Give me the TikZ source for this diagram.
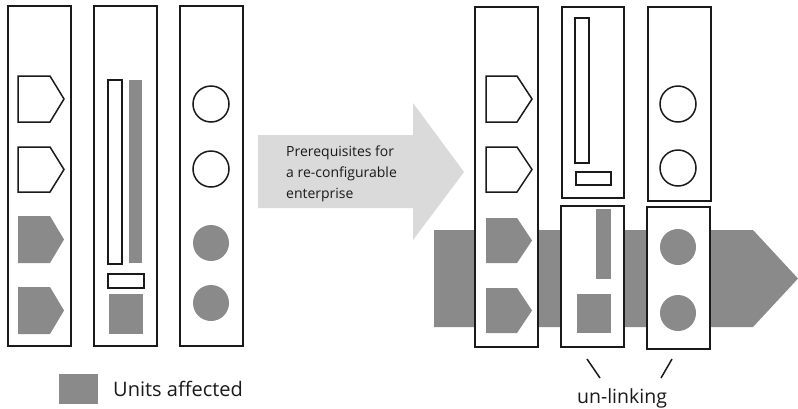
\documentclass[tikz,border=0pt]{standalone}
\usepackage{fontspec}
\setmainfont{Open Sans}
\definecolor{unitgray}{HTML}{8A8A8A}
\definecolor{flowlight}{HTML}{DADADA}
\definecolor{ink}{HTML}{1A1A1A}
\begin{document}
\begin{tikzpicture}[x=1pt,y=-1pt,
  panel/.style={draw=ink,line width=2pt,fill=white,inner sep=0pt},
  outl/.style={draw=ink,line width=1.5pt,fill=white},
  unit/.style={fill=unitgray,draw=none},
  label/.style={text=ink,inner sep=0pt,anchor=west}]
\useasboundingbox[fill=white] (0,0) rectangle (798,408);

% ---------- before: three columns of units ----------
\node[panel,minimum width=63pt,minimum height=340pt] (L1) at (39.5,176) {};
\node[panel,minimum width=63pt,minimum height=340pt] (L2) at (125.5,176) {};
\node[panel,minimum width=63pt,minimum height=340pt] (L3) at (211.5,176) {};

% pentagon units
\draw[outl] (18,76) -- (50,76) -- (64,99) -- (50,122) -- (18,122) -- cycle;
\draw[outl] (18,147) -- (50,147) -- (64,169.5) -- (50,192) -- (18,192) -- cycle;
\path[unit] (18,216) -- (50,216) -- (64,239.5) -- (50,263) -- (18,263) -- cycle;
\path[unit] (18,287) -- (50,287) -- (64,310.5) -- (50,334) -- (18,334) -- cycle;

% bar units
\draw[outl] (108,80) rectangle (122,264);
\path[unit] (129,80) rectangle (142,263);
\draw[outl] (108,274) rectangle (144,288);
\path[unit] (109,294) rectangle (143,334);

% round units
\draw[outl] (211,104) circle (18);
\draw[outl] (211,169) circle (18);
\path[unit] (211,243) circle (18);
\path[unit] (211,303) circle (18);

% legend
\path[unit] (59,374) rectangle (98,404);
\node[label,font=\fontsize{20}{22}\selectfont] (legend) at (113,389) {Units affected};

% ---------- transition arrow ----------
\path[fill=flowlight] (258,135) -- (413,135) -- (413,103) -- (464,172) -- (413,240) -- (413,208) -- (258,208) -- cycle;
\node[label,align=left,font=\fontsize{14}{21}\selectfont] (prereq) at (286,174)
  {Prerequisites for\\a re-configurable\\enterprise};

% ---------- after: the affected units are un-linked ----------
\path[unit] (434,230) -- (753,230) -- (798,278.5) -- (753,327) -- (434,327) -- cycle;

\node[panel,minimum width=63pt,minimum height=340pt] (R1) at (506.5,177) {};
\node[panel,minimum width=62pt,minimum height=191pt] (R2a) at (593,102.5) {};
\node[panel,minimum width=63pt,minimum height=141pt] (R2b) at (592.5,276.5) {};
\node[panel,minimum width=63pt,minimum height=194pt] (R3a) at (679.5,104) {};
\node[panel,minimum width=63pt,minimum height=142pt] (R3b) at (678.5,278) {};

% pentagon units
\draw[outl] (486,76) -- (517,76) -- (532,99) -- (517,122) -- (486,122) -- cycle;
\draw[outl] (486,147) -- (517,147) -- (532,169.5) -- (517,192) -- (486,192) -- cycle;
\path[unit] (486,218) -- (517,218) -- (532,240.5) -- (517,263) -- (486,263) -- cycle;
\path[unit] (486,288) -- (517,288) -- (532,310.5) -- (517,333) -- (486,333) -- cycle;

% bar units, now split
\draw[outl] (575,18) rectangle (589,163);
\draw[outl] (576,172) rectangle (611,185);
\path[unit] (596,209) rectangle (611,279);
\path[unit] (577,294) rectangle (611,333);

% round units, now split
\draw[outl] (678,104) circle (18);
\draw[outl] (678,168) circle (18);
\path[unit] (678,247) circle (18);
\path[unit] (678,313) circle (18);

% caption with its two pointers
\node[text=ink,inner sep=0pt,anchor=base,font=\fontsize{19.5}{21}\selectfont] (unlink) at (622,403) {un-linking};
\coordinate (s1a) at (587,359); \coordinate (s1b) at (600,378);
\coordinate (s2a) at (672,359); \coordinate (s2b) at (661,378);
\draw[ink,line width=1.5pt] (s1a) -- (s1b);
\draw[ink,line width=1.5pt] (s2a) -- (s2b);
\end{tikzpicture}
\end{document}
